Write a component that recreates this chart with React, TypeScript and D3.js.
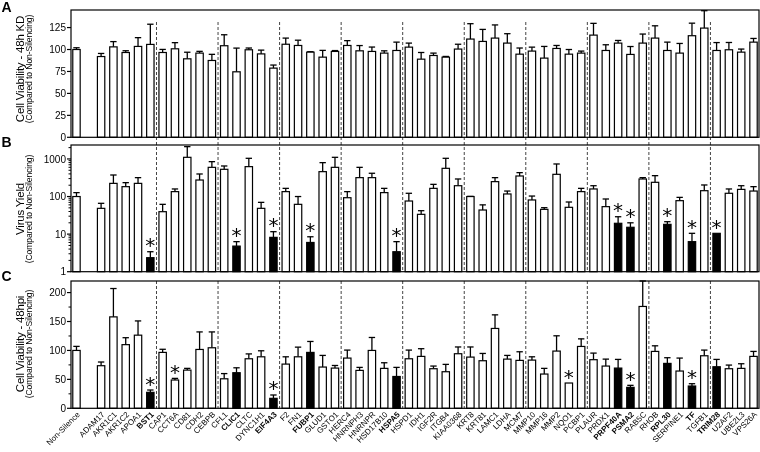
import React from 'react';
import * as d3 from 'd3';

const categories = [
  'Non-Silence', '', 'ADAM17', 'AKR1C1', 'AKR1C2', 'APOA1', 'BST1', 'CAP1', 'CCT6A', 'CD81', 'CDH2', 'CEBPB',
  'CFL1', 'CLIC1', 'CLTC', 'DYNC1H1', 'EIF4A3', 'F2', 'FN1', 'FUBP1', 'GLUD1', 'GSTO1', 'HERC4', 'HNRNPH3',
  'HNRNPR', 'HSD17B10', 'HSPA5', 'HSPD1', 'IDH1', 'IGF2R', 'ITGB4', 'KIAA0368', 'KRT8', 'KRT81', 'LAMC1',
  'LDHA', 'MCM7', 'MMP10', 'MMP16', 'MMP2', 'NQO1', 'PCBP1', 'PLAUR', 'PRDX1', 'PRPF40A', 'PSMA2', 'RAB5C',
  'RHOB', 'RPL30', 'SERPINE1', 'TF', 'TGFB1', 'TRIM28', 'U2AF2', 'UBE2L3', 'VPS26A',
];

const hits = ['BST1', 'CLIC1', 'EIF4A3', 'FUBP1', 'HSPA5', 'PRPF40A', 'PSMA2', 'RPL30', 'TF', 'TRIM28'];
const groupEnds = ['BST1', 'CEBPB', 'EIF4A3', 'GSTO1', 'HSPA5', 'KIAA0368', 'MCM7', 'PCBP1', 'RAB5C', 'TGFB1'];

// Panel A: cell viability 48h KD
const kdMean = [
  100, null, 92, 103, 96.6, 103.5, 105.8, 96.6, 100.8, 89.4, 95.9, 87.5,
  104.3, 74.6, 99.7, 95, 78.8, 106, 104.6, 97, 91.3, 97.8, 104.6, 98.5,
  97.8, 95.9, 98.9, 102.7, 89, 93.2, 91.3, 100.5, 111.9, 109.2, 113,
  107.3, 94.7, 98.2, 90.2, 101.2, 94.7, 95.9, 116.4, 98.9, 107.3, 94.4, 107.3,
  113, 98.9, 95.9, 115.7, 124.4, 98.9, 99.7, 97, 108.4,
];
const kdErr = [
  2, null, 3.5, 6, 2, 10, 23, 3.5, 7, 7.5, 2, 7,
  12.5, 27, 2, 4.3, 3.5, 7, 6, 0.5, 7.7, 1, 5.5, 6,
  5, 2.6, 9.5, 4.6, 7.6, 2.7, 0.8, 5.5, 17.5, 13.7, 15,
  10.7, 7, 4.5, 13.3, 3.4, 5.3, 2.3, 13.4, 6.5, 3, 9, 10.3,
  14, 9.5, 11, 14.3, 19.8, 9, 8.3, 3.5, 4.2,
];

// Panel B: virus yield
const yieldMean = [
  100, null, 48.5, 224, 183, 224, 2.36, 39.5, 135, 1105, 275, 598,
  530, 4.8, 624, 48.5, 8.2, 135, 62, 6.0, 459, 598, 93, 318,
  318, 127, 3.4, 76, 33.6, 165, 563, 194, 100, 43.8, 249,
  117, 352, 81, 45.6, 390, 51.6, 135, 159, 53.8, 19.4, 15.2, 293,
  239, 18.2, 77.6, 6.3, 143, 10.5, 122, 155, 140,
];
const yieldErr = [
  27, null, 17.5, 150, 51, 94, 1.04, 22.5, 24, 1020, 123, 249,
  120, 1.5, 416, 21.5, 3.4, 30, 38, 2.5, 338, 507, 42, 280,
  98, 38, 2.9, 46, 8.4, 46, 477, 99, 1, 16.2, 69,
  23, 80, 22, 4.9, 345, 19.9, 30, 35, 32.2, 9.6, 4.8, 25,
  120, 3.2, 17.4, 4.2, 60, 0, 37, 39, 43,
];

// Panel C: cell viability 48 hpi
const hpiMean = [
  100, null, 73.6, 158, 110, 126.4, 27.6, 96.6, 48.9, 66, 101.7, 104.6,
  51, 61.5, 85.6, 89, 17.2, 76.4, 89, 96.6, 71.3, 69.5, 86.8, 65.5,
  100, 69, 55, 85.6, 89.7, 68.4, 63.2, 94.3, 88.5, 82.2, 138,
  85, 82.8, 83.3, 59.2, 98.9, 43.7, 106.9, 84, 73, 69.5, 36.2, 176,
  98.3, 77.6, 64.4, 38.5, 90.8, 71.8, 68.4, 69, 89.7,
];
const hpiErr = [
  7, null, 6.4, 49, 12, 24.6, 4, 5.4, 2.8, 3, 30.3, 27.4,
  9, 8.5, 8.4, 10.4, 5.8, 12.6, 16.7, 18.9, 20.1, 4.5, 13.8, 5.2,
  22.4, 9.7, 15.7, 15, 13.3, 4.6, 12.7, 11.7, 17.5, 12.6, 23.5,
  6.4, 14.9, 5.7, 9.8, 26.4, 0, 13.1, 11.4, 12, 15, 3.5, 46,
  9.7, 9.8, 22.4, 4, 9.8, 12.7, 6.3, 8, 8.6,
];

const yieldStars = ['BST1', 'CLIC1', 'EIF4A3', 'FUBP1', 'HSPA5', 'PRPF40A', 'PSMA2', 'RPL30', 'TF', 'TRIM28'];
const hpiStars = ['BST1', 'CCT6A', 'EIF4A3', 'NQO1', 'PSMA2', 'TF'];

const kdTicks = [0, 25, 50, 75, 100, 125];
const yieldTicks = [1, 10, 100, 1000];
const hpiTicks = [0, 50, 100, 150, 200];
const hpiMinorTicks = [25, 75, 125, 175];

const W = 760;
const H = 452;
const LEFT = 71;
const RIGHT = 759;
const FONT = 'Liberation Sans, Arial, sans-serif';

const x = d3
  .scaleBand<number>()
  .domain(d3.range(categories.length))
  .range([LEFT, RIGHT])
  .paddingInner(0.4)
  .paddingOuter(0.145);

const cx = (i: number) => (x(i) as number) + x.bandwidth() / 2;

type PanelProps = {
  top: number;
  bottom: number;
  y: any;
  mean: (number | null)[];
  err: (number | null)[];
  fillHits: boolean;
  stars: string[];
  ticks: number[];
  minor: number[];
  letter: string;
  letterY: number;
  title: string;
  titleY: number;
};

function Panel(p: PanelProps) {
  const base = p.bottom;
  const bw = x.bandwidth();
  return (
    <g>
      {categories.map((c, i) => {
        const m = p.mean[i];
        if (m == null) return null;
        const e = p.err[i] || 0;
        const yTop = p.y(m);
        const yCap = Math.max(p.top, p.y(m + e));
        const filled = p.fillHits && hits.includes(c);
        return (
          <g key={i}>
            {e > 0 && (
              <g stroke="#000" strokeWidth={1.3}>
                <line x1={cx(i)} x2={cx(i)} y1={yTop} y2={yCap} />
                <line x1={cx(i) - bw / 2 + 0.5} x2={cx(i) + bw / 2 - 0.5} y1={yCap} y2={yCap} />
              </g>
            )}
            <rect
              x={x(i)}
              y={yTop}
              width={bw}
              height={base - yTop}
              fill={filled ? '#000' : '#fff'}
              stroke="#000"
              strokeWidth={1.2}
            />
            {p.stars.includes(c) && (
              <text
                x={cx(i)}
                y={yCap + 0.5}
                textAnchor="middle"
                fontFamily="DejaVu Sans, sans-serif"
                fontSize={20}
                fill="#000"
              >
                *
              </text>
            )}
          </g>
        );
      })}
      <rect x={LEFT} y={p.top} width={RIGHT - LEFT} height={p.bottom - p.top} fill="none" stroke="#000" strokeWidth={1.2} />
      {p.ticks.map((t) => (
        <g key={t}>
          <line x1={LEFT - 4} x2={LEFT} y1={p.y(t)} y2={p.y(t)} stroke="#000" strokeWidth={1.2} />
          <text
            x={LEFT - 5}
            y={p.y(t)}
            dy="0.36em"
            textAnchor="end"
            fontFamily={FONT}
            fontSize={10}
            fill="#000"
          >
            {t}
          </text>
        </g>
      ))}
      {p.minor.map((t) => (
        <line key={'m' + t} x1={LEFT - 2.5} x2={LEFT} y1={p.y(t)} y2={p.y(t)} stroke="#000" strokeWidth={1} />
      ))}
      <text x={1.5} y={p.letterY} fontFamily={FONT} fontWeight="bold" fontSize={14} fill="#000">
        {p.letter}
      </text>
      <g transform={`translate(24, ${p.titleY}) rotate(-90)`}>
        <text textAnchor="middle" fontFamily={FONT} fontSize={11.5} fill="#000" letterSpacing={-0.2}>
          {p.title}
        </text>
      </g>
      <g transform={`translate(32, ${p.titleY}) rotate(-90)`}>
        <text textAnchor="middle" fontFamily={FONT} fontSize={8.6} fill="#000" letterSpacing={-0.1}>
          (Compared to Non-Silencing)
        </text>
      </g>
    </g>
  );
}

export default function App() {
  const yA = d3.scaleLinear().domain([0, 145]).range([137.3, 10]);
  const yB = d3.scaleLog().domain([1, 2350]).range([271.7, 145]);
  const yC = d3.scaleLinear().domain([0, 220]).range([408.3, 281]);

  const yMinorB: number[] = [];
  [1, 10, 100, 1000].forEach((d) => {
    for (let k = 2; k <= 9; k++) {
      const v = d * k;
      if (v < 2350) yMinorB.push(v);
    }
  });

  const dividers = groupEnds.map((g) => cx(categories.indexOf(g)) + x.step() / 2);

  return (
    <svg
      width={W}
      height={H}
      viewBox={`0 0 ${W} ${H}`}
      style={{ position: 'absolute', left: 0, top: 0, background: '#fff' }}
    >
      <rect width={W} height={H} fill="#fff" />
      <g opacity={0.999}>
        {dividers.map((d, i) => (
          <g key={i} stroke="#444" strokeWidth={1} strokeDasharray="3,2">
            <line x1={d} x2={d} y1={22} y2={271.7} />
            <line x1={d} x2={d} y1={281} y2={408.3} />
          </g>
        ))}
        <Panel
          top={10}
          bottom={137.3}
          y={yA}
          mean={kdMean}
          err={kdErr}
          fillHits={false}
          stars={[]}
          ticks={kdTicks}
          minor={[]}
          letter="A"
          letterY={12}
          title="Cell Viability - 48h KD"
          titleY={69}
        />
        <Panel
          top={145}
          bottom={271.7}
          y={yB}
          mean={yieldMean}
          err={yieldErr}
          fillHits={true}
          stars={yieldStars}
          ticks={yieldTicks}
          minor={yMinorB}
          letter="B"
          letterY={146.5}
          title="Virus Yield"
          titleY={209}
        />
        <Panel
          top={281}
          bottom={408.3}
          y={yC}
          mean={hpiMean}
          err={hpiErr}
          fillHits={true}
          stars={hpiStars}
          ticks={hpiTicks}
          minor={hpiMinorTicks}
          letter="C"
          letterY={281}
          title="Cell Viability - 48hpi"
          titleY={344}
        />
        {categories.map((c, i) =>
          c === '' ? null : (
            <g key={c} transform={`translate(${cx(i) + 2}, 413) rotate(-45)`}>
              <text
                textAnchor="end"
                dy="0.35em"
                fontFamily={FONT}
                fontSize={8}
                fontWeight={hits.includes(c) ? 'bold' : 'normal'}
                fill="#000"
              >
                {c}
              </text>
            </g>
          )
        )}
      </g>
    </svg>
  );
}
